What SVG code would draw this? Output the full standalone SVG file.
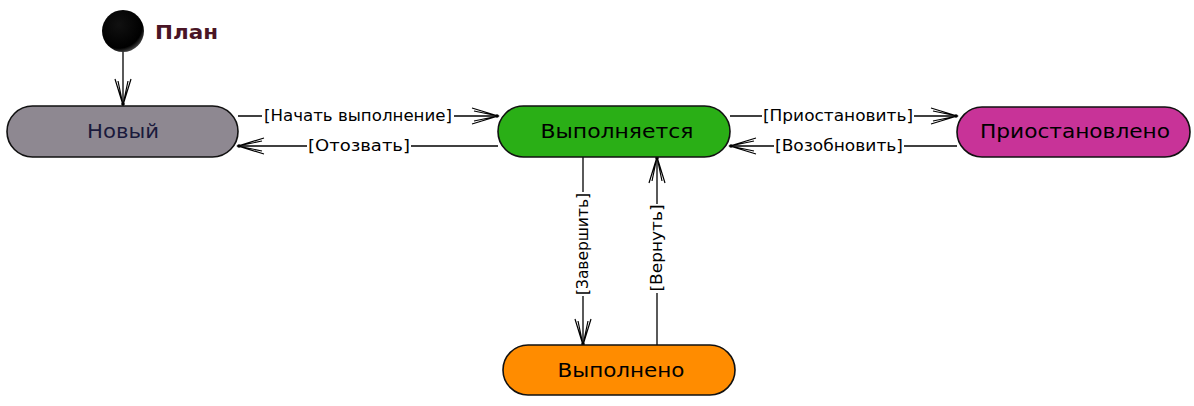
<svg xmlns="http://www.w3.org/2000/svg" width="1194" height="406" viewBox="0 0 1194 406">
<style>
.node{stroke:#111;stroke-width:1.6}
.ntext{font-family:"DejaVu Sans Condensed","DejaVu Sans",sans-serif;font-size:20px;text-anchor:middle;dominant-baseline:central}
.conn{stroke:#000;stroke-width:1.3;fill:none}
.lbl{font-family:"DejaVu Sans",sans-serif;font-size:15px;fill:#000;text-anchor:middle;dominant-baseline:central}
.bg{fill:#fff}
</style>
<defs>
<marker id="arr" markerUnits="userSpaceOnUse" markerWidth="30" markerHeight="20" viewBox="-28 -10 30 20" refX="0" refY="0" orient="auto">
<path d="M-26,-8 L0,0 L-26,8 M-24,-5 L0,0 L-24,5" fill="none" stroke="#000" stroke-width="1.2"/>
<circle cx="-1" cy="0" r="1.8" fill="#000"/>
</marker>
<radialGradient id="ig" cx="0.4" cy="0.35" r="0.7">
<stop offset="0" stop-color="#111"/><stop offset="0.8" stop-color="#000"/><stop offset="1" stop-color="#555"/>
</radialGradient>
</defs>

<g id="connectors">
<line class="conn" x1="123" y1="51" x2="123" y2="105" marker-end="url(#arr)"/>
<line class="conn" x1="238" y1="116" x2="498" y2="116" marker-end="url(#arr)"/>
<line class="conn" x1="498" y1="146" x2="238" y2="146" marker-end="url(#arr)"/>
<line class="conn" x1="730" y1="116" x2="957" y2="116" marker-end="url(#arr)"/>
<line class="conn" x1="957" y1="146" x2="730" y2="146" marker-end="url(#arr)"/>
<line class="conn" x1="583" y1="157" x2="583" y2="345" marker-end="url(#arr)"/>
<line class="conn" x1="657" y1="345" x2="657" y2="157" marker-end="url(#arr)"/>
<rect class="bg" x="262" y="106" width="192" height="20"/>
<text class="lbl" x="358" y="116" textLength="188" lengthAdjust="spacingAndGlyphs">[Начать выполнение]</text>
<rect class="bg" x="307" y="136" width="104" height="20"/>
<text class="lbl" x="359" y="146" textLength="102" lengthAdjust="spacingAndGlyphs">[Отозвать]</text>
<rect class="bg" x="762" y="106" width="152" height="20"/>
<text class="lbl" x="838" y="116" textLength="150" lengthAdjust="spacingAndGlyphs">[Приостановить]</text>
<rect class="bg" x="774" y="136" width="130" height="20"/>
<text class="lbl" x="839" y="146" textLength="128" lengthAdjust="spacingAndGlyphs">[Возобновить]</text>
<rect class="bg" x="573" y="192" width="20" height="104"/>
<text class="lbl" transform="translate(583,244) rotate(-90)" x="0" y="0" textLength="102" lengthAdjust="spacingAndGlyphs">[Завершить]</text>
<rect class="bg" x="647" y="204" width="20" height="89"/>
<text class="lbl" transform="translate(657,248) rotate(-90)" x="0" y="0" textLength="87" lengthAdjust="spacingAndGlyphs">[Вернуть]</text>
</g>

<g id="start">
<circle cx="123" cy="31" r="21" fill="url(#ig)"/>
<text x="155" y="39" font-family="'DejaVu Sans',sans-serif" font-size="20" font-weight="bold" fill="#4a1526" textLength="63" lengthAdjust="spacingAndGlyphs">План</text>
</g>

<g id="node-new">
<rect class="node" x="7" y="106" width="231" height="51" rx="25.5" fill="#8e8891"/>
<text class="ntext" x="123" y="131" fill="#1a1a3c" textLength="72" lengthAdjust="spacingAndGlyphs">Новый</text>
</g>

<g id="node-running">
<rect class="node" x="498" y="106" width="232" height="51" rx="25.5" fill="#2aaf16"/>
<text class="ntext" x="617" y="131" fill="#000" textLength="153" lengthAdjust="spacingAndGlyphs">Выполняется</text>
</g>

<g id="node-paused">
<rect class="node" x="957" y="107" width="233" height="50" rx="25" fill="#c83398"/>
<text class="ntext" x="1075" y="131" fill="#000" textLength="190" lengthAdjust="spacingAndGlyphs">Приостановлено</text>
</g>

<g id="node-done">
<rect class="node" x="503" y="345" width="232" height="50" rx="25" fill="#ff8c00"/>
<text class="ntext" x="621" y="370" fill="#000" textLength="127" lengthAdjust="spacingAndGlyphs">Выполнено</text>
</g>
</svg>
